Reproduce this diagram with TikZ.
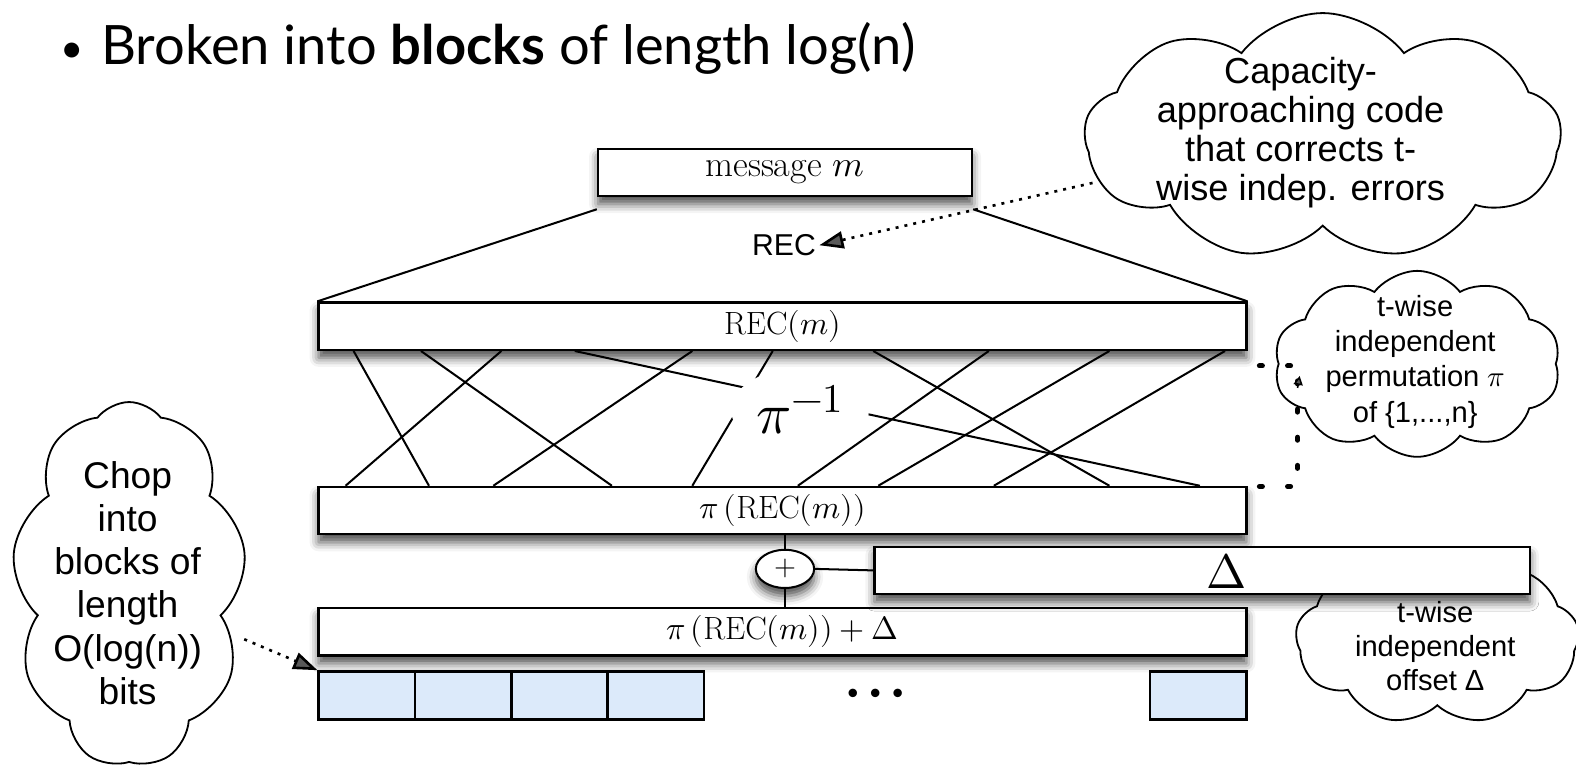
\documentclass[tikz,border=0pt]{standalone}
\usepackage{fontspec}
\usepackage{unicode-math}
\setmathfont{Latin Modern Math}
\usetikzlibrary{shapes.symbols,shapes.geometric,arrows.meta,calc,shadows.blur}
\newfontfamily\helv{Liberation Sans}
\newfontfamily\gill{Lato}
\definecolor{blockblue}{RGB}{220,234,250}
\pgfdeclarelayer{background}
\pgfsetlayers{background,main}

\begin{document}
\begin{tikzpicture}[x=1pt,y=-1pt,
  shadowspec/.style={shadow xshift=0pt, shadow yshift=-8pt,
      shadow blur radius=9pt, shadow opacity=70},
  softshadow/.style={blur shadow={shadowspec}},
  bar/.style={draw, line width=2.4pt, fill=white, rectangle, inner sep=0pt,
      minimum height=47pt, softshadow, font=\fontsize{32}{36}\selectfont},
  blk/.style={draw, line width=2.4pt, fill=blockblue, rectangle, inner sep=0pt,
      minimum width=96pt, minimum height=48pt},
  wire/.style={line width=2pt},
  puff/.style={draw, cloud, cloud ignores aspect, cloud puff arc=105, fill=white,
      line width=1.8pt, inner sep=0pt},
  cloudtext/.style={align=center, inner sep=0pt},
  fineptr/.style={line width=2.6pt, dash pattern=on 3pt off 6pt,
      -{Triangle[length=24pt,width=17pt]}},
  bracketdots/.style={line width=5pt, line cap=round, dash pattern=on 3pt off 25pt},
]
\useasboundingbox (0,0) rectangle (1568,762);

% heading
\node[anchor=base, font=\gill\fontsize{40}{50}\selectfont] (bullet) at (72,62) {•};
\node[anchor=base west, font=\gill\fontsize{54}{58}\selectfont] (title) at (97,64)
  {Broken into \textbf{blocks} of length log(n)};

% stacked bars
\node[bar, minimum width=372pt, font=\fontsize{36}{40}\selectfont] (msg) at (781,171.5) {message $m$};
\node[bar, minimum width=923pt] (rec) at (778.5,324.5) {$\mathrm{REC}(m)$};
\node[bar, minimum width=923pt] (prec) at (778.5,508) {$\pi\left(\mathrm{REC}(m)\right)$};
\node[bar, minimum width=923pt] (sum) at (778.5,628.5) {$\pi\left(\mathrm{REC}(m)\right)+\Delta$};

% blocks of the codeword
\node[blk] (b1) at (365,692) {};
\node[blk] (b2) at (461,692) {};
\node[blk] (b3) at (557,692) {};
\node[blk] (b4) at (652.5,692) {};
\node[blk] (b5) at (1192,692) {};
\begin{pgfonlayer}{background}
  \path[blur shadow={shadowspec}] (b1.north west) rectangle (b4.south east);
  \path[blur shadow={shadowspec}] (b5.north west) rectangle (b5.south east);
\end{pgfonlayer}
\node[font=\fontsize{80}{80}\selectfont] (dots) at (871,698) {$\cdots$};

% encoding step
\draw[wire] ([yshift=-12pt]msg.south west) -- (rec.north west);
\draw[wire] ([yshift=-12pt]msg.south east) -- (rec.north east);
\node[font=\helv\fontsize{30}{34}\selectfont] (reclbl) at (780,244) {REC};

% permutation wires
\foreach \a/\b in {36/111, 103/293, 183/28, 256/878, 373/175, 453/373,
                   553/788, 668/478, 788/558, 903/673}
  \draw[wire] ($(rec.south west)+(\a,0)$) -- ($(prec.north west)+(\b,0)$);
\node[ellipse, fill=white, inner sep=5pt, font=\fontsize{58}{58}\selectfont] (piinv)
  at (796,408) {$\pi^{-1}$};

% offset
\node[puff, minimum width=282pt, minimum height=170pt, cloud puffs=9] (offcloud) at (1430,636) {};
\node[cloudtext, font=\helv\fontsize{29}{34}\selectfont] (offtxt) at (1428,643)
  {t-wise\\independent\\offset Δ};
\node[bar, minimum width=652pt, minimum height=47pt] (delta) at (1196,567.5) {};
\node[font=\fontsize{48}{48}\selectfont] (deltalbl) at (1220,568) {$\Delta$};
\node[draw, ellipse, line width=2pt, fill=white, minimum width=58pt, minimum height=38pt,
      inner sep=0pt, softshadow, font=\fontsize{28}{28}\selectfont] (plus) at (781,566) {$+$};
\draw[wire] (prec.south -| plus) -- (plus.north);
\draw[wire] (plus.south) -- (sum.north -| plus);
\draw[wire] (plus.east) -- (delta.west);

% explanatory clouds
\node[puff, minimum width=474pt, minimum height=246pt, cloud puffs=9,
      shape border rotate=20] (capcloud) at (1316,136) {};
\node[cloudtext, font=\helv\fontsize{36}{39}\selectfont] (captxt) at (1294,132)
  {Capacity-\\approaching code\\that corrects t-\\wise indep. errors};

\node[puff, minimum width=285pt, minimum height=185pt, cloud puffs=10,
      shape border rotate=18] (permcloud) at (1410,362) {};
\node[cloudtext, font=\helv\fontsize{29}{35}\selectfont] (permtxt) at (1408,360)
  {t-wise\\independent\\permutation $\pi$\\of \{1,...,n\}};

\node[puff, minimum width=233pt, minimum height=363pt, cloud puffs=9] (chopcloud) at (128.5,581.5) {};
\node[cloudtext, font=\helv\fontsize{37}{43}\selectfont] (choptxt) at (127,580)
  {Chop\\into\\blocks of\\length\\O(log(n))\\bits};

% pointers
\coordinate (capfoot) at (1087,182);
\coordinate (chopfoot) at (243,636);
\draw[fineptr] (capfoot) -- (reclbl.east);
\draw[fineptr] (chopfoot) -- (b1.north west);
\coordinate (brtop) at (1253,364);
\coordinate (brbot) at (1253,484);
\draw[bracketdots] (brtop) -- ++(38,0);
\draw[bracketdots] (brbot) -- ++(38,0) -- ++(0,-108);
\draw[-{Triangle[length=9pt,width=9pt]}, line width=1.5pt] (1291,386) -- (1293,374);
\end{tikzpicture}
\end{document}
